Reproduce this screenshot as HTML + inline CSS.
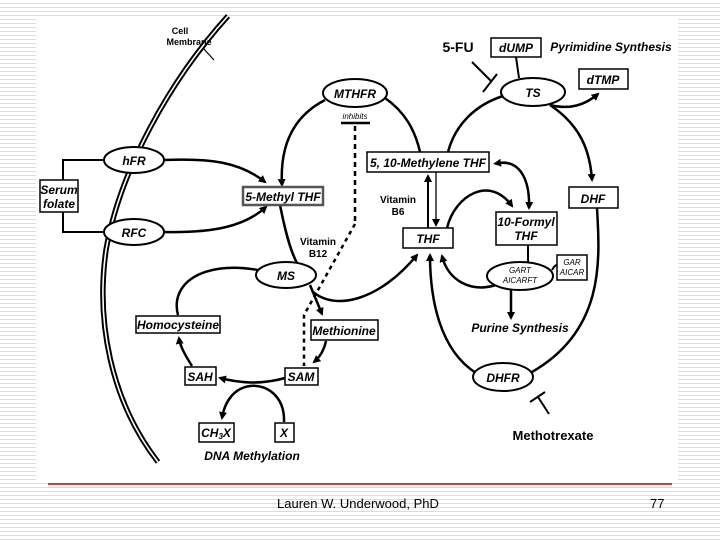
<!DOCTYPE html>
<html><head><meta charset="utf-8"><style>
html,body{margin:0;padding:0;}
body{width:720px;height:540px;position:relative;overflow:hidden;font-family:"Liberation Sans",sans-serif;
background:repeating-linear-gradient(to bottom,#fff 0,#fff 3px,#dcdcdc 3px,#dcdcdc 4px);}
#img{position:absolute;left:36px;top:17px;width:642px;height:466px;background:#fff;}
svg{position:absolute;left:0;top:0;}
.foot{position:absolute;top:496px;font-size:13px;color:#000;}
</style></head><body>
<div id="img"></div>
<svg width="720" height="540" viewBox="0 0 720 540" font-family="Liberation Sans, sans-serif">
<defs>
<marker id="a" markerWidth="8" markerHeight="8" refX="6" refY="4" orient="auto" markerUnits="userSpaceOnUse" viewBox="0 0 8 8">
<path d="M0,0 L8,4 L0,8 Z" fill="#000"/></marker>
<marker id="as" markerWidth="8" markerHeight="8" refX="2" refY="4" orient="auto-start-reverse" markerUnits="userSpaceOnUse" viewBox="0 0 8 8">
<path d="M0,0 L8,4 L0,8 Z" fill="#000"/></marker>
</defs>
<g fill="none" stroke="#000" stroke-width="2.5">
<!-- membrane -->
<path d="M228,16 C170,80 120,170 106,250 C96,320 110,400 158,462" stroke-width="5.5"/>
<path d="M228,16 C170,80 120,170 106,250 C96,320 110,400 158,462" stroke="#fff" stroke-width="1.6"/>
<path d="M203,48 L214,60" stroke-width="1.2"/>
<!-- serum bracket -->
<path d="M104,160 H63 V180 M63,212 V232 H104" stroke-width="2"/>
<path d="M164,160 C210,158 240,162 265,182" marker-end="url(#a)"/>
<path d="M164,232 C215,233 245,226 266,207" marker-end="url(#a)"/>
<!-- MTHFR -->
<path d="M325,100 C290,118 280,150 282,185" marker-end="url(#a)"/>
<path d="M385,98 C405,112 415,130 420,152"/>
<path d="M341,123 H370" stroke-width="2.5"/>
<path d="M355,126 V222" stroke-dasharray="5,4"/>
<path d="M355,224 L304,315 V366" stroke-dasharray="4,4"/>
<!-- TS -->
<path d="M448,152 C455,125 475,105 503,96"/>
<path d="M472,62 L492,82" stroke-width="2"/>
<path d="M483,92 L497,74" stroke-width="2"/>
<path d="M516,57 L519,78" stroke-width="2"/>
<path d="M550,105 C570,110 585,105 598,94" marker-end="url(#a)"/>
<path d="M550,105 C580,125 590,150 592,180" marker-end="url(#a)"/>
<path d="M597,208 C600,260 605,330 532,372"/>
<path d="M476,373 C440,350 430,300 430,255" marker-end="url(#a)"/>
<path d="M530,402 L545,392 M538,397 L549,414" stroke-width="2"/>
<!-- methylene/THF -->
<path d="M428,228 V176" marker-end="url(#a)" stroke-width="2"/>
<path d="M436,172 V225" marker-end="url(#a)" stroke-width="1.3"/>
<path d="M447,228 C455,195 490,175 512,206" marker-end="url(#a)"/>
<path d="M499,163 C520,160 530,180 529,208" marker-start="url(#as)" marker-end="url(#a)"/>
<path d="M528,245 V262" stroke-width="2"/>
<path d="M552,270 C555,265 557,264 558,266" stroke-width="2"/>
<path d="M496,285 C470,293 448,280 442,256" marker-end="url(#a)"/>
<path d="M511,289 V318" marker-end="url(#a)"/>
<path d="M312,291 C335,312 380,300 417,255" marker-end="url(#a)"/>
<!-- methionine cycle -->
<path d="M280,205 C285,230 290,250 297,263"/>
<path d="M258,270 C200,260 170,285 178,315"/>
<path d="M310,285 L322,314" marker-end="url(#a)"/>
<path d="M326,341 C324,350 320,357 314,362" marker-end="url(#a)"/>
<path d="M285,378 C260,385 240,383 220,378" marker-end="url(#a)"/>
<path d="M192,366 C185,355 180,346 179,338" marker-end="url(#a)"/>
<path d="M284,422 C285,395 265,384 250,386 C235,388 225,400 222,418" marker-end="url(#a)"/>
</g>
<!-- ellipses -->
<g fill="#fff" stroke="#000" stroke-width="2">
<ellipse cx="134" cy="160" rx="30" ry="13"/>
<ellipse cx="134" cy="232" rx="30" ry="13"/>
<ellipse cx="355" cy="93" rx="32" ry="14"/>
<ellipse cx="533" cy="92" rx="32" ry="14"/>
<ellipse cx="286" cy="275" rx="30" ry="13"/>
<ellipse cx="520" cy="276" rx="33" ry="14"/>
<ellipse cx="503" cy="377" rx="30" ry="14"/>
</g>
<!-- boxes -->
<g fill="#fff" stroke="#000" stroke-width="1.5">
<rect x="40" y="180" width="38" height="32"/>
<rect x="243" y="187" width="80" height="18" stroke="#555" stroke-width="2.5"/>
<rect x="491" y="38" width="50" height="19"/>
<rect x="579" y="69" width="49" height="20"/>
<rect x="367" y="152" width="122" height="20"/>
<rect x="569" y="187" width="49" height="21"/>
<rect x="403" y="228" width="50" height="20"/>
<rect x="496" y="212" width="61" height="33"/>
<rect x="557" y="255" width="30" height="25"/>
<rect x="136" y="316" width="84" height="17"/>
<rect x="311" y="320" width="67" height="20"/>
<rect x="285" y="368" width="33" height="17"/>
<rect x="185" y="367" width="31" height="18"/>
<rect x="199" y="423" width="35" height="19"/>
<rect x="275" y="423" width="19" height="19"/>
</g>
<g font-weight="bold" font-style="italic" font-size="12" text-anchor="middle" fill="#000">
<text x="134" y="165">hFR</text>
<text x="134" y="237">RFC</text>
<text x="59" y="194">Serum</text>
<text x="59" y="208">folate</text>
<text x="283" y="201">5-Methyl THF</text>
<text x="355" y="98">MTHFR</text>
<text x="355" y="119" font-size="8" font-weight="normal">inhibits</text>
<text x="516" y="52">dUMP</text>
<text x="533" y="97">TS</text>
<text x="603" y="84">dTMP</text>
<text x="428" y="167">5, 10-Methylene THF</text>
<text x="593" y="203">DHF</text>
<text x="428" y="243">THF</text>
<text x="526" y="226">10-Formyl</text>
<text x="526" y="240">THF</text>
<text x="286" y="280">MS</text>
<text x="178" y="329">Homocysteine</text>
<text x="344" y="335">Methionine</text>
<text x="301" y="381">SAM</text>
<text x="200" y="381">SAH</text>
<text x="216" y="437">CH<tspan font-size="8" dy="2">3</tspan><tspan dy="-2">X</tspan></text>
<text x="284" y="437">X</text>
<text x="503" y="382">DHFR</text>
<text x="520" y="332">Purine Synthesis</text>
<text x="252" y="460">DNA Methylation</text>
<text x="611" y="51" text-anchor="middle">Pyrimidine Synthesis</text>
<text x="520" y="273" font-size="8" font-weight="normal">GART</text>
<text x="520" y="283" font-size="8" font-weight="normal">AICARFT</text>
<text x="572" y="265" font-size="8" font-weight="normal">GAR</text>
<text x="572" y="275" font-size="8" font-weight="normal">AICAR</text>
</g>
<g font-weight="bold" font-size="10" text-anchor="middle" fill="#000">
<text x="180" y="34" font-size="9">Cell</text>
<text x="189" y="45" font-size="9">Membrane</text>
<text x="398" y="203">Vitamin</text>
<text x="398" y="215">B6</text>
<text x="318" y="245">Vitamin</text>
<text x="318" y="257">B12</text>
<text x="458" y="52" font-size="14">5-FU</text>
<text x="553" y="440" font-size="13">Methotrexate</text>
</g>
<line x1="48" y1="484" x2="672" y2="484" stroke="#7a1f1f" stroke-width="1.5"/>
<line x1="48" y1="486" x2="672" y2="486" stroke="#f0d0d0" stroke-width="1"/>
</svg>
<div class="foot" style="left:277px;">Lauren W. Underwood, PhD</div>
<div class="foot" style="left:650px;">77</div>
</body></html>
